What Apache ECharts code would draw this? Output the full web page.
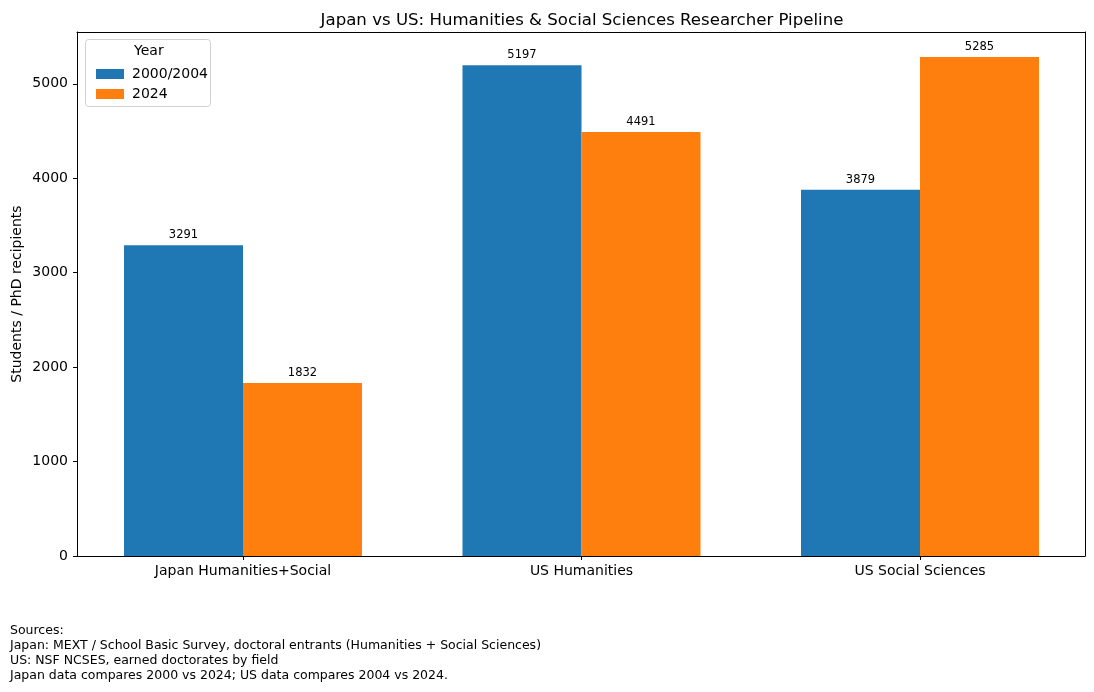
<!DOCTYPE html>
<html>
<head>
<meta charset="utf-8">
<script src="https://cdn.jsdelivr.net/npm/echarts@6/dist/echarts.min.js"></script>
<style>html,body{margin:0;height:100%;background:#fff}#chart{width:1094px;height:692px}</style>
</head>
<body>
<div id="chart"></div>
<script>
// data
const categories = ['Japan Humanities+Social', 'US Humanities', 'US Social Sciences'];
const earlyValues = [3291, 5197, 3879];   // 2000 (Japan) / 2004 (US)
const lateValues = [1832, 4491, 5285];    // 2024
const seriesNames = ['2000/2004', '2024'];
const yTicks = [0, 1000, 2000, 3000, 4000, 5000];
const yMax = 5549;
const sourceLines = [
  'Sources:',
  'Japan: MEXT / School Basic Survey, doctoral entrants (Humanities + Social Sciences)',
  'US: NSF NCSES, earned doctorates by field',
  'Japan data compares 2000 vs 2024; US data compares 2004 vs 2024.'
];

const font = 'DejaVu Sans';
const chart = echarts.init(document.getElementById('chart'), null, { renderer: 'canvas' });

function barSeries(name, data, color) {
  return {
    name: name,
    type: 'bar',
    xAxisIndex: 2, yAxisIndex: 2,
    data: data,
    barWidth: 119,
    barGap: '0%',
    itemStyle: { color: color },
    label: {
      show: true, position: 'top', distance: 4,
      fontFamily: font, fontSize: 11.5, color: '#000'
    },
    emphasis: { disabled: true }
  };
}

const option = {
  animation: false,
  textStyle: { fontFamily: font },
  title: {
    text: 'Japan vs US: Humanities & Social Sciences Researcher Pipeline',
    left: 577, top: 7, textAlign: 'center',
    textStyle: { fontFamily: font, fontSize: 16.6, fontWeight: 'normal', color: '#000' }
  },
  // grid 0 = visible frame, grid 1 = bar slots (matplotlib-like margins)
  grid: [
    { left: 77, right: 9, top: 32, bottom: 136, containLabel: false, outerBoundsMode: 'none' },
    { left: 73.75, right: 4.75, top: 32, bottom: 136, containLabel: false, outerBoundsMode: 'none' }
  ],
  legend: {
    data: seriesNames,
    orient: 'vertical',
    left: 91, top: 62,
    itemWidth: 28, itemHeight: 10, itemGap: 6,
    icon: 'rect',
    textStyle: { fontFamily: font, fontSize: 14, color: '#000', padding: [0, 0, 0, 3] },
    selectedMode: false
  },
  xAxis: [{
    gridIndex: 0,
    type: 'category',
    data: categories,
    axisLine: { onZero: false, lineStyle: { color: '#000', width: 1 } },
    axisTick: { show: false },
    axisLabel: { show: false }
  }, {
    gridIndex: 0,
    type: 'category',
    data: categories,
    position: 'top',
    axisLine: { onZero: false, lineStyle: { color: '#000', width: 1 } },
    axisTick: { show: false },
    axisLabel: { show: false }
  }, {
    gridIndex: 1,
    type: 'category',
    data: categories,
    axisLine: { show: false },
    axisTick: { show: true, alignWithLabel: true, length: 4, lineStyle: { color: '#000' } },
    axisLabel: { fontFamily: font, fontSize: 14, color: '#000', margin: 8 }
  }],
  yAxis: [{
    gridIndex: 0,
    type: 'value',
    min: 0, max: yMax,
    name: 'Students / PhD recipients',
    nameLocation: 'middle', nameGap: 53, nameRotate: 90, nameMoveOverlap: false,
    nameTextStyle: { fontFamily: font, fontSize: 14, color: '#000' },
    axisLine: { show: true, onZero: false, lineStyle: { color: '#000', width: 1 } },
    axisTick: { show: true, length: 4, customValues: yTicks, lineStyle: { color: '#000' } },
    axisLabel: {
      fontFamily: font, fontSize: 14, color: '#000', margin: 9,
      customValues: yTicks,
      formatter: v => String(v)
    },
    splitLine: { show: false }
  }, {
    gridIndex: 0,
    type: 'value',
    min: 0, max: yMax,
    position: 'right',
    axisLine: { show: true, onZero: false, lineStyle: { color: '#000', width: 1 } },
    axisTick: { show: false },
    axisLabel: { show: false },
    splitLine: { show: false }
  }, {
    gridIndex: 1,
    type: 'value',
    min: 0, max: yMax,
    show: false
  }],
  series: [
    barSeries(seriesNames[0], earlyValues, '#1f77b4'),
    barSeries(seriesNames[1], lateValues, '#ff7f0e')
  ],
  graphic: [
    {
      type: 'rect', left: 85, top: 39, z: 0,
      shape: { width: 125, height: 67, r: 3 },
      style: { fill: 'rgba(255,255,255,0.8)', stroke: '#d0d0d0', lineWidth: 1 }
    },
    {
      type: 'text', left: 134, top: 44, z: 1,
      style: { text: 'Year', font: '14px ' + font, fill: '#000' }
    },
    {
      type: 'text', left: 10, top: 623,
      style: { text: sourceLines.join('\n'), font: '12.5px ' + font, lineHeight: 15, fill: '#000' }
    }
  ]
};

chart.setOption(option);
</script>
</body>
</html>
